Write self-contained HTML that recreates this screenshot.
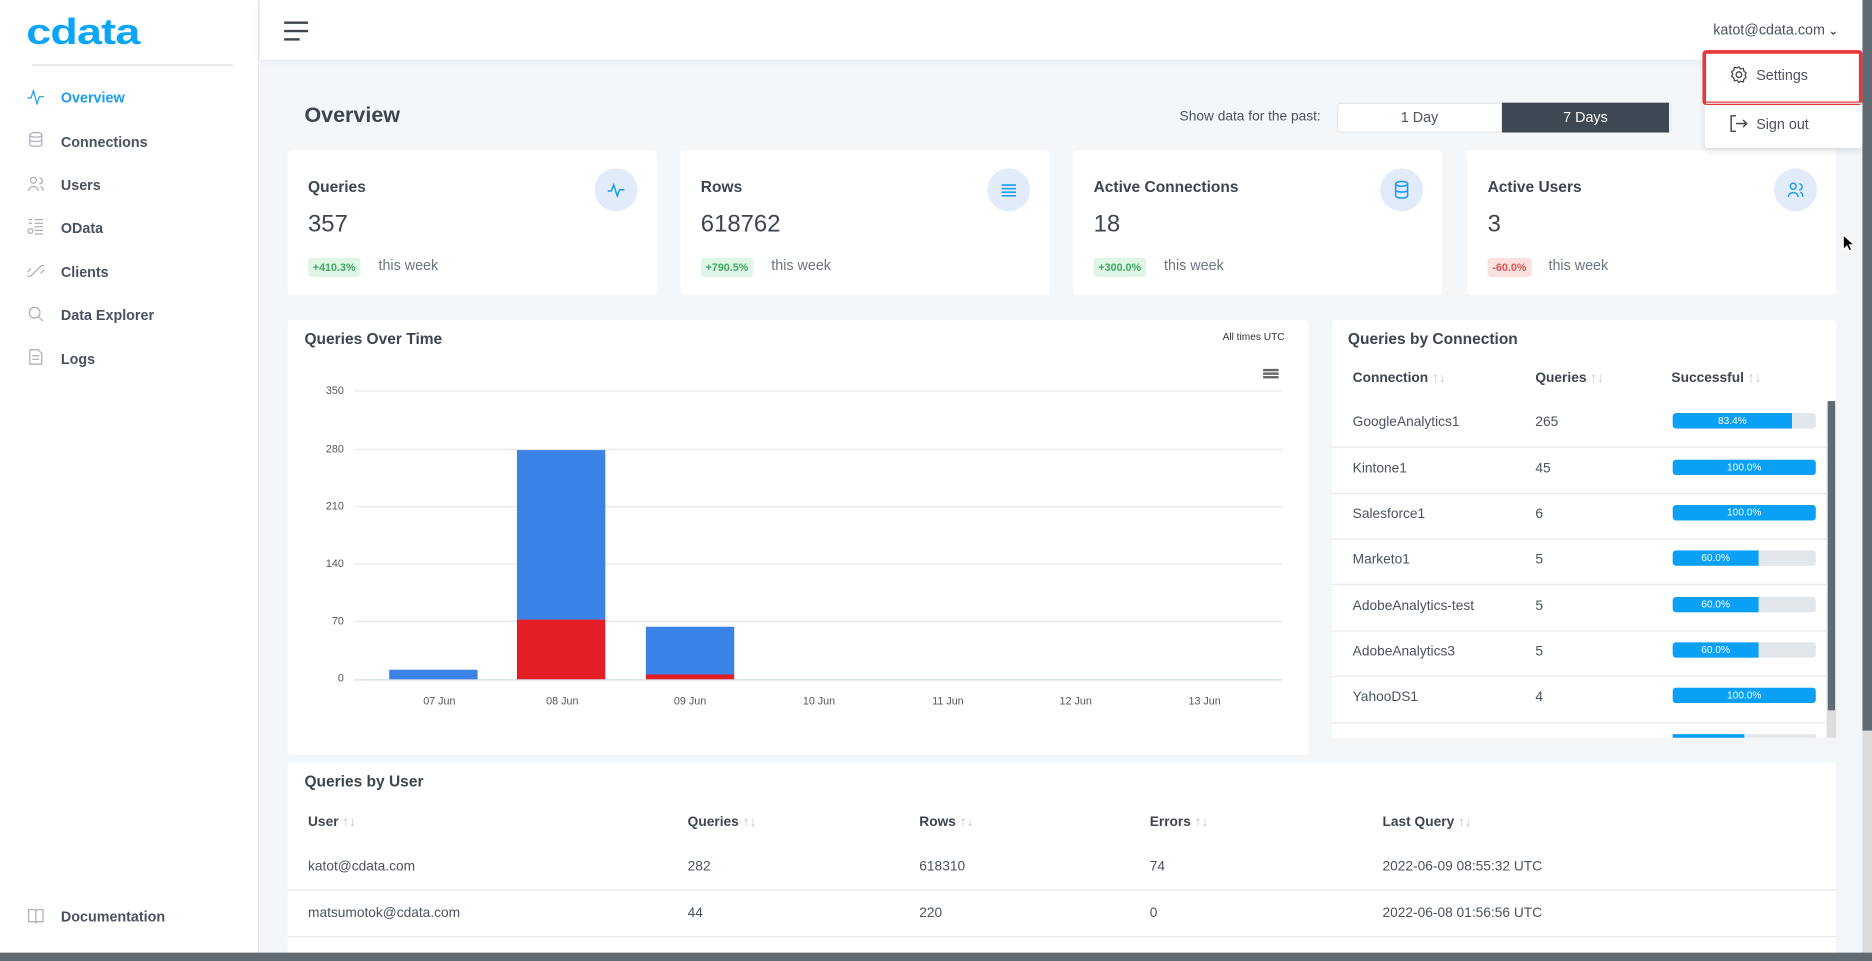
<!DOCTYPE html>
<html><head><meta charset="utf-8"><style>
*{box-sizing:border-box;margin:0;padding:0}
html,body{width:1872px;height:961px;overflow:hidden;background:#f4f7fa}
#w{position:absolute;left:0;top:0;width:1568px;height:805px;transform:scale(1.19388,1.19379);transform-origin:0 0;font-family:"Liberation Sans",sans-serif;color:#3d4550;background:#f4f7fa;overflow:hidden}
.a{position:absolute}
.side{left:0;top:0;width:217px;height:805px;background:#fff;border-right:1px solid #e6e9ed}
.nav{left:51px;font-size:12px;font-weight:bold;color:#4a5260}
.ic{left:23px;width:14px;height:14px}
.top{left:218px;top:0;width:1342px;height:50px;background:#fff;box-shadow:0 2px 8px rgba(0,0,0,.06)}
.card{background:#fff;border-radius:3px}
.ct{font-size:13px;font-weight:bold;color:#3d4550}
.cv{font-size:20px;color:#3d4550}
.bd{font-size:9px;font-weight:bold;padding:3px 4px;border-radius:3px}
.g{background:#dff5e6;color:#3fa862}.r{background:#fbe0e0;color:#d9534f}
.tw{font-size:12px;color:#6b7480}
.circ{width:36px;height:36px;border-radius:50%;background:#e1ebfa}
.yl{font-size:9px;color:#555;width:30px;text-align:right;left:258px}
.gl{left:297px;width:777px;height:1px;background:#e6e6e6}
.xl{font-size:9px;color:#555;width:60px;text-align:center;top:582px}
.th{font-size:11.5px;font-weight:bold;color:#3d4550}
.th span{color:#c0c5cc;font-weight:normal}
.td{font-size:11.5px;color:#4a5260}
.sep{height:1px;background:#e3e7eb}
.pb{left:1401px;width:120px;height:13px;background:#e3e7eb;border-radius:3px;overflow:hidden}
.pf{height:13px;background:#0aa0f5;color:#fff;font-size:8.5px;text-align:center;line-height:13px}
</style></head><body><div id="w">
<div class="a side"></div>
<div class="a" style="left:22px;top:13px;font-size:30px;font-weight:bold;color:#0aa6f5;line-height:30px;transform:scaleX(1.25);transform-origin:0 0;letter-spacing:-0.5px">cdata</div>
<div class="a" style="left:27px;top:54px;width:168px;height:1px;background:#d5d8dc"></div>
<svg class="a ic" style="top:74px" viewBox="0 0 14 14"><polyline points="0,8 3,8 5,2 8,13 10,7 14,7" fill="none" stroke="#1a9cf0" stroke-width="1"/></svg>
<div class="a nav" style="top:75px;color:#1a9cf0">Overview</div>
<svg class="a ic" style="top:110px" viewBox="0 0 14 14"><ellipse cx="7" cy="3" rx="5" ry="2" fill="none" stroke="#aab" /><path d="M2 3v8c0 2 10 2 10 0V3M2 7c0 2 10 2 10 0" fill="none" stroke="#aab"/></svg>
<div class="a nav" style="top:112px">Connections</div>
<svg class="a ic" style="top:147px" viewBox="0 0 14 14"><circle cx="5" cy="4" r="2.5" fill="none" stroke="#aab"/><path d="M1 13c0-5 8-5 8 0M10 2a2.5 2.5 0 010 5M11 9c2 1 2 2 2 4" fill="none" stroke="#aab"/></svg>
<div class="a nav" style="top:148px">Users</div>
<svg class="a ic" style="top:183px" viewBox="0 0 14 14"><path d="M1 1h3M6 1h7M1 4h3M6 4h7M6 7h7M6 10h7M6 13h7" stroke="#aab"/><circle cx="2.5" cy="10.5" r="2" fill="none" stroke="#aab"/></svg>
<div class="a nav" style="top:184px">OData</div>
<svg class="a ic" style="top:220px" viewBox="0 0 14 14"><path d="M6 8l-3 3a2 2 0 01-3-3l3-3M8 6l3-3a2 2 0 013 3l-3 3M5 9l4-4" fill="none" stroke="#aab"/></svg>
<div class="a nav" style="top:221px">Clients</div>
<svg class="a ic" style="top:256px" viewBox="0 0 14 14"><circle cx="6" cy="6" r="4.5" fill="none" stroke="#aab"/><path d="M9.5 9.5L13 13" stroke="#aab"/></svg>
<div class="a nav" style="top:257px">Data Explorer</div>
<svg class="a ic" style="top:292px" viewBox="0 0 14 14"><path d="M2 1h7l3 3v9H2z M4 6h6M4 9h6" fill="none" stroke="#aab"/></svg>
<div class="a nav" style="top:294px">Logs</div>
<svg class="a ic" style="top:760px" viewBox="0 0 14 14"><path d="M1 2h5l1 1 1-1h5v10H8l-1 1-1-1H1zM7 3v10" fill="none" stroke="#aab"/></svg>
<div class="a nav" style="top:761px">Documentation</div>

<div class="a top"></div>
<div class="a" style="left:238px;top:18px;width:20px;height:2px;background:#3d4550"></div>
<div class="a" style="left:238px;top:25px;width:20px;height:2px;background:#3d4550"></div>
<div class="a" style="left:238px;top:32px;width:13px;height:2px;background:#3d4550"></div>
<div class="a" style="left:1435px;top:18px;font-size:12px;color:#4a5260">katot@cdata.com <b style="font-size:9px">&#8964;</b></div>

<div class="a" style="left:255px;top:86px;font-size:18px;font-weight:bold;color:#3d4550">Overview</div>
<div class="a" style="left:988px;top:92px;font-size:11.5px;color:#4a5260">Show data for the past:</div>
<div class="a" style="left:1120px;top:86px;width:280px;height:25px;background:#fff;border:1px solid #e2e6ea;border-radius:3px"></div>
<div class="a" style="left:1120px;top:91px;width:138px;text-align:center;font-size:12px;color:#4a5260">1 Day</div>
<div class="a" style="left:1258px;top:86px;width:140px;height:25px;background:#3d4853;color:#fff;text-align:center;font-size:12px;line-height:25px">7 Days</div>

<div class="a card" style="left:241px;top:126px;width:309px;height:121px"></div>
<div class="a card" style="left:570px;top:126px;width:309px;height:121px"></div>
<div class="a card" style="left:899px;top:126px;width:309px;height:121px"></div>
<div class="a card" style="left:1229px;top:126px;width:309px;height:121px"></div>
<div class="a ct" style="left:258px;top:149px">Queries</div><div class="a cv" style="left:258px;top:177px">357</div>
<div class="a bd g" style="left:258px;top:216px">+410.3%</div><div class="a tw" style="left:317px;top:215px">this week</div>
<div class="a ct" style="left:587px;top:149px">Rows</div><div class="a cv" style="left:587px;top:177px">618762</div>
<div class="a bd g" style="left:587px;top:216px">+790.5%</div><div class="a tw" style="left:646px;top:215px">this week</div>
<div class="a ct" style="left:916px;top:149px">Active Connections</div><div class="a cv" style="left:916px;top:177px">18</div>
<div class="a bd g" style="left:916px;top:216px">+300.0%</div><div class="a tw" style="left:975px;top:215px">this week</div>
<div class="a ct" style="left:1246px;top:149px">Active Users</div><div class="a cv" style="left:1246px;top:177px">3</div>
<div class="a bd r" style="left:1246px;top:216px">-60.0%</div><div class="a tw" style="left:1297px;top:215px">this week</div>
<div class="a circ" style="left:498px;top:141px"></div><div class="a circ" style="left:827px;top:141px"></div><div class="a circ" style="left:1156px;top:141px"></div><div class="a circ" style="left:1486px;top:141px"></div>
<svg class="a" style="left:509px;top:152px" width="14" height="14" viewBox="0 0 14 14"><polyline points="0,8 3,8 5,3 8,12 10,7 14,7" fill="none" stroke="#1a9cf0" stroke-width="1.3"/></svg>
<svg class="a" style="left:838px;top:153px" width="14" height="12"><path d="M1 2h12M1 5h12M1 8h12M1 11h12" stroke="#1a9cf0" stroke-width="1.3"/></svg>
<svg class="a" style="left:1167px;top:151px" width="14" height="16" viewBox="0 0 14 16"><ellipse cx="7" cy="3" rx="5" ry="2" fill="none" stroke="#1a9cf0" stroke-width="1.3"/><path d="M2 3v10c0 2.5 10 2.5 10 0V3M2 8c0 2.5 10 2.5 10 0" fill="none" stroke="#1a9cf0" stroke-width="1.3"/></svg>
<svg class="a" style="left:1497px;top:152px" width="14" height="14" viewBox="0 0 14 14"><circle cx="5" cy="4" r="2.5" fill="none" stroke="#1a9cf0" stroke-width="1.2"/><path d="M1 13c0-5 8-5 8 0M10 2a2.5 2.5 0 010 5M11 9c2 1 2 2 2 4" fill="none" stroke="#1a9cf0" stroke-width="1.2"/></svg>

<div class="a card" style="left:241px;top:268px;width:855px;height:364px"></div>
<div class="a ct" style="left:255px;top:276px">Queries Over Time</div>
<div class="a" style="left:1000px;top:277px;width:76px;text-align:right;font-size:8.5px;color:#333">All times UTC</div>
<div class="a" style="left:1058px;top:309px;width:13px;height:1.5px;background:#666;box-shadow:0 3px 0 #666,0 6px 0 #666"></div>
<div class="a gl" style="top:327px"></div><div class="a gl" style="top:376px"></div><div class="a gl" style="top:424px"></div><div class="a gl" style="top:472px"></div><div class="a gl" style="top:520px"></div><div class="a gl" style="top:569px;background:#ccd6eb"></div>
<div class="a yl" style="top:322px">350</div><div class="a yl" style="top:371px">280</div><div class="a yl" style="top:419px">210</div><div class="a yl" style="top:467px">140</div><div class="a yl" style="top:515px">70</div><div class="a yl" style="top:563px">0</div>
<div class="a" style="left:326px;top:561px;width:74px;height:8px;background:#3b82e6"></div>
<div class="a" style="left:433px;top:377px;width:74px;height:142px;background:#3b82e6"></div>
<div class="a" style="left:433px;top:519px;width:74px;height:50px;background:#e41e26"></div>
<div class="a" style="left:541px;top:525px;width:74px;height:40px;background:#3b82e6"></div>
<div class="a" style="left:541px;top:565px;width:74px;height:4px;background:#e41e26"></div>
<div class="a xl" style="left:338px">07 Jun</div><div class="a xl" style="left:441px">08 Jun</div><div class="a xl" style="left:548px">09 Jun</div><div class="a xl" style="left:656px">10 Jun</div><div class="a xl" style="left:764px">11 Jun</div><div class="a xl" style="left:871px">12 Jun</div><div class="a xl" style="left:979px">13 Jun</div>

<div class="a card" style="left:1116px;top:268px;width:422px;height:350px;overflow:hidden">
</div>
<div class="a ct" style="left:1129px;top:276px">Queries by Connection</div>
<div class="a th" style="left:1133px;top:311px">Connection <span>↑↓</span></div>
<div class="a th" style="left:1286px;top:311px">Queries <span>↑↓</span></div>
<div class="a th" style="left:1400px;top:311px">Successful <span>↑↓</span></div>
<div class="a td" style="left:1133px;top:348px">GoogleAnalytics1</div><div class="a td" style="left:1286px;top:348px">265</div>
<div class="a pb" style="top:346px"><div class="pf" style="width:83.4%">83.4%</div></div>
<div class="a sep" style="left:1116px;top:374px;width:414px"></div>
<div class="a td" style="left:1133px;top:387px">Kintone1</div><div class="a td" style="left:1286px;top:387px">45</div>
<div class="a pb" style="top:385px"><div class="pf" style="width:100%">100.0%</div></div>
<div class="a sep" style="left:1116px;top:413px;width:414px"></div>
<div class="a td" style="left:1133px;top:425px">Salesforce1</div><div class="a td" style="left:1286px;top:425px">6</div>
<div class="a pb" style="top:423px"><div class="pf" style="width:100%">100.0%</div></div>
<div class="a sep" style="left:1116px;top:451px;width:414px"></div>
<div class="a td" style="left:1133px;top:463px">Marketo1</div><div class="a td" style="left:1286px;top:463px">5</div>
<div class="a pb" style="top:461px"><div class="pf" style="width:60%">60.0%</div></div>
<div class="a sep" style="left:1116px;top:489px;width:414px"></div>
<div class="a td" style="left:1133px;top:502px">AdobeAnalytics-test</div><div class="a td" style="left:1286px;top:502px">5</div>
<div class="a pb" style="top:500px"><div class="pf" style="width:60%">60.0%</div></div>
<div class="a sep" style="left:1116px;top:528px;width:414px"></div>
<div class="a td" style="left:1133px;top:540px">AdobeAnalytics3</div><div class="a td" style="left:1286px;top:540px">5</div>
<div class="a pb" style="top:538px"><div class="pf" style="width:60%">60.0%</div></div>
<div class="a sep" style="left:1116px;top:566px;width:414px"></div>
<div class="a td" style="left:1133px;top:578px">YahooDS1</div><div class="a td" style="left:1286px;top:578px">4</div>
<div class="a pb" style="top:576px"><div class="pf" style="width:100%">100.0%</div></div>
<div class="a sep" style="left:1116px;top:605px;width:414px"></div>
<div class="a" style="left:1401px;top:615px;width:120px;height:3px;background:#e3e7eb"><div style="width:50%;height:3px;background:#0aa0f5"></div></div>
<div class="a" style="left:1530px;top:336px;width:8px;height:282px;background:#ddd"></div>
<div class="a" style="left:1531px;top:336px;width:6px;height:259px;background:#5f6a72"></div>

<div class="a card" style="left:241px;top:639px;width:1297px;height:170px"></div>
<div class="a ct" style="left:255px;top:647px">Queries by User</div>
<div class="a th" style="left:258px;top:683px">User <span>↑↓</span></div>
<div class="a th" style="left:576px;top:683px">Queries <span>↑↓</span></div>
<div class="a th" style="left:770px;top:683px">Rows <span>↑↓</span></div>
<div class="a th" style="left:963px;top:683px">Errors <span>↑↓</span></div>
<div class="a th" style="left:1158px;top:683px">Last Query <span>↑↓</span></div>
<div class="a td" style="left:258px;top:720px">katot@cdata.com</div><div class="a td" style="left:576px;top:720px">282</div><div class="a td" style="left:770px;top:720px">618310</div><div class="a td" style="left:963px;top:720px">74</div><div class="a td" style="left:1158px;top:720px">2022-06-09 08:55:32 UTC</div>
<div class="a sep" style="left:241px;top:745px;width:1297px"></div>
<div class="a td" style="left:258px;top:759px">matsumotok@cdata.com</div><div class="a td" style="left:576px;top:759px">44</div><div class="a td" style="left:770px;top:759px">220</div><div class="a td" style="left:963px;top:759px">0</div><div class="a td" style="left:1158px;top:759px">2022-06-08 01:56:56 UTC</div>
<div class="a sep" style="left:241px;top:784px;width:1297px"></div>

<div class="a" style="left:1428px;top:42px;width:132px;height:82px;background:#fff;box-shadow:0 2px 6px rgba(0,0,0,.12);border-radius:3px"></div>
<div class="a" style="left:1426px;top:42px;width:134px;height:46px;border:3px solid #e8363a;border-radius:3px"></div>
<div class="a" style="left:1429px;top:86px;width:131px;height:1px;background:#e3e7eb"></div>
<svg class="a" style="left:1449px;top:55px" width="15" height="15" viewBox="0 0 16 16"><circle cx="8" cy="8" r="2.5" fill="none" stroke="#3d4550" stroke-width="1.2"/><path d="M8 1l1.5 2 2.5-.5.5 2.5 2 1.5-1 2 1 2-2 1.5-.5 2.5-2.5-.5L8 15l-1.5-2-2.5.5-.5-2.5-2-1.5 1-2-1-2 2-1.5.5-2.5 2.5.5z" fill="none" stroke="#3d4550" stroke-width="1.1"/></svg>
<div class="a" style="left:1471px;top:56px;font-size:12px;color:#4a5260">Settings</div>
<svg class="a" style="left:1449px;top:96px" width="15" height="15" viewBox="0 0 15 15"><path d="M5 1H1v13h4M5 7.5h9M11 4.5l3 3-3 3" fill="none" stroke="#3d4550" stroke-width="1.2"/></svg>
<div class="a" style="left:1471px;top:97px;font-size:12px;color:#4a5260">Sign out</div>

<svg class="a" style="left:1543px;top:196px" width="10" height="15"><path d="M1 1v12l3-3 2 4 2-1-2-4h4z" fill="#000" stroke="#fff" stroke-width=".8"/></svg>
<div class="a" style="left:1560px;top:0;width:8px;height:805px;background:#dcdcdc"></div>
<div class="a" style="left:1560px;top:0;width:8px;height:612px;background:#5f6a72"></div>
<div class="a" style="left:0;top:798px;width:1568px;height:7px;background:#5f6a72"></div>
</div></body></html>
